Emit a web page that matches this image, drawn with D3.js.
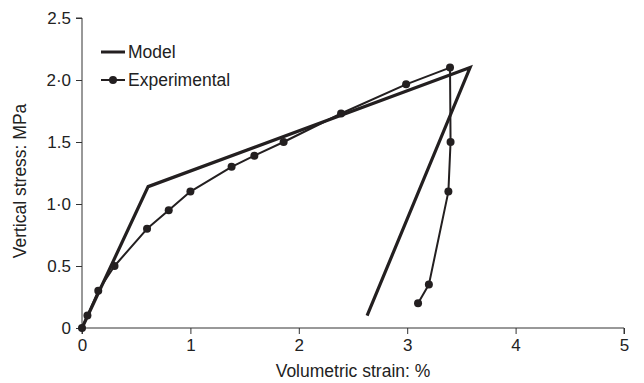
<!DOCTYPE html>
<html>
<head>
<meta charset="utf-8">
<script src="https://cdn.jsdelivr.net/npm/d3@7"></script>
<style>
  html, body { margin: 0; padding: 0; background: #fff; }
  svg { display: block; font-family: "Liberation Sans", Arial, sans-serif; }
</style>
</head>
<body>
<svg id="chart" width="644" height="383"></svg>
<script>
// Data
const modelX = [0, 0.61, 3.58, 2.63];
const modelY = [0, 1.14, 2.10, 0.10];
const expX = [0, 0.05, 0.15, 0.30, 0.60, 0.80, 1.00, 1.38, 1.59, 1.86, 2.39, 2.99, 3.395, 3.40, 3.38, 3.20, 3.10];
const expY = [0, 0.10, 0.30, 0.50, 0.80, 0.95, 1.10, 1.30, 1.39, 1.50, 1.73, 1.965, 2.10, 1.50, 1.10, 0.35, 0.20];
const xTicks = [0, 1, 2, 3, 4, 5];
const xTickLabels = ["0", "1", "2", "3", "4", "5"];
const yTicks = [0, 0.5, 1.0, 1.5, 2.0, 2.5];
const yTickLabels = ["0", "0.5", "1·0", "1.5", "2·0", "2.5"];
const seriesNames = ["Model", "Experimental"];

const svg = d3.select("#chart");
const margin = { left: 82, right: 20, top: 18, bottom: 55 };
const W = 644, H = 383;
const x = d3.scaleLinear().domain([0, 5]).range([margin.left, W - margin.right]);
const y = d3.scaleLinear().domain([0, 2.5]).range([H - margin.bottom, margin.top]);

const ink = "#231f20";
const axisCol = "#333";
const fs = 17;

// Axes
const xAxis = d3.axisBottom(x).tickValues(xTicks).tickFormat((d, i) => xTickLabels[i]).tickSize(6).tickPadding(5);
const gx = svg.append("g").attr("transform", `translate(0,${y(0)})`).call(xAxis);
const yAxis = d3.axisLeft(y).tickValues(yTicks).tickFormat((d, i) => yTickLabels[i]).tickSize(6).tickPadding(5);
const gy = svg.append("g").attr("transform", `translate(${x(0)},0)`).call(yAxis);
[gx, gy].forEach(g => {
  g.select(".domain").attr("stroke", axisCol).attr("stroke-width", 1);
  g.selectAll(".tick line").attr("stroke", axisCol).attr("stroke-width", 1);
  g.selectAll(".tick text").attr("fill", "#222").style("font-size", fs + "px").style("font-family", "Liberation Sans, Arial, sans-serif");
});
gx.select(".domain").attr("d", `M${x(0)},6V0H${x(5)}V6`);
gy.select(".domain").attr("d", `M-6,${y(2.5)}H0V${y(0)}`);

// Titles
svg.append("text").attr("x", (x(0) + x(5)) / 2).attr("y", 377)
  .attr("text-anchor", "middle").attr("fill", "#222").style("font-size", (fs + 0.5) + "px")
  .text("Volumetric strain: %");
svg.append("text").attr("transform", `translate(26,${(y(0) + y(2.5)) / 2 + 8}) rotate(-90)`)
  .attr("text-anchor", "middle").attr("fill", "#222").style("font-size", (fs + 0.5) + "px")
  .text("Vertical stress: MPa");

// Lines
const line = d3.line().x(d => x(d[0])).y(d => y(d[1]));
const model = modelX.map((v, i) => [v, modelY[i]]);
const exp = expX.map((v, i) => [v, expY[i]]);

svg.append("path").datum(exp).attr("d", line).attr("fill", "none")
  .attr("stroke", ink).attr("stroke-width", 2).attr("stroke-linejoin", "round");
svg.append("path").datum(model).attr("d", line).attr("fill", "none")
  .attr("stroke", ink).attr("stroke-width", 3.2).attr("stroke-linejoin", "miter");
svg.append("g").selectAll("circle").data(exp).join("circle")
  .attr("cx", d => x(d[0])).attr("cy", d => y(d[1])).attr("r", 4).attr("fill", ink);

// Legend
const lg = svg.append("g");
const lx0 = 101, lx1 = 125, ly = [52, 80];
lg.append("line").attr("x1", lx0).attr("x2", lx1).attr("y1", ly[0]).attr("y2", ly[0])
  .attr("stroke", ink).attr("stroke-width", 3);
lg.append("line").attr("x1", lx0).attr("x2", lx1).attr("y1", ly[1]).attr("y2", ly[1])
  .attr("stroke", ink).attr("stroke-width", 2);
lg.append("circle").attr("cx", (lx0 + lx1) / 2).attr("cy", ly[1]).attr("r", 4).attr("fill", ink);
seriesNames.forEach((n, i) => {
  lg.append("text").attr("x", 128).attr("y", ly[i]).attr("dy", "0.35em")
    .attr("fill", "#222").style("font-size", (fs + 0.5) + "px").text(n);
});
</script>
</body>
</html>
